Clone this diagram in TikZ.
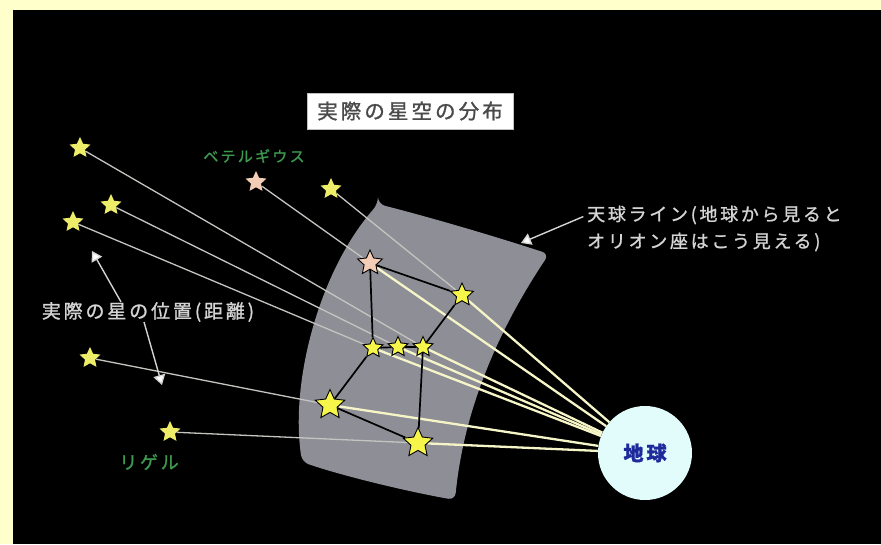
\documentclass[tikz,border=0pt]{standalone}
\usepackage{fontspec}
\newfontfamily\jp[LetterSpace=15,FakeBold=1.2]{Noto Sans CJK JP}
\usetikzlibrary{shapes.geometric,arrows.meta}

\definecolor{framecol}{HTML}{FFFFCC}
\definecolor{spherecol}{HTML}{8E8E96}
\definecolor{staryellow}{HTML}{F6F64A}
\definecolor{farstarcol}{HTML}{EDED6A}
\definecolor{betelcol}{HTML}{F3CDB5}
\definecolor{earthcol}{HTML}{E2FBFB}
\definecolor{earthtext}{HTML}{1E2A9C}
\definecolor{labelcol}{HTML}{D4D4D4}
\definecolor{namecol}{HTML}{3D9950}
\definecolor{titletext}{HTML}{4A4A4A}
\definecolor{farray}{HTML}{C4C4C0}
\definecolor{nearray}{HTML}{F5F5C8}

\pgfdeclarelayer{back}
\pgfdeclarelayer{rays}
\pgfdeclarelayer{links}
\pgfsetlayers{back,rays,links,main}

\tikzset{
  farstar/.style={star, star points=5, star point ratio=2.1, fill=farstarcol,
    inner sep=0pt, minimum size=#1},
  farstar/.default=22,
  nearstar/.style={star, star points=5, star point ratio=2.1, fill=staryellow,
    draw=black, line width=0.9pt, inner sep=0pt, minimum size=#1},
  nearstar/.default=21,
  farray/.style={draw=farray, line width=1.3pt},
  nearray/.style={draw=nearray, line width=2.3pt},
  figline/.style={draw=black, line width=1.7pt},
  pointer/.style={draw=labelcol, line width=1.4pt,
    -{Triangle[width=12pt,length=10pt,fill=white]}},
  caption/.style={text=labelcol, inner sep=0pt},
  starname/.style={text=namecol, inner sep=0pt},
}

\begin{document}
\begin{tikzpicture}[x=1pt,y=-1pt]
\useasboundingbox (0,0) rectangle (881,544);

% frame and night sky
\begin{pgfonlayer}{back}
  \fill[framecol] (0,0) rectangle (881,544);
  \fill[black] (13,10) rectangle (881,544);
  % celestial sphere patch
  \fill[spherecol, rounded corners=7pt]
    (378,204) .. controls (440,220) and (500,238) .. (549,254)
    .. controls (505,320) and (465,400) .. (455,500)
    .. controls (400,490) and (340,475) .. (302,462)
    .. controls (290,380) and (320,270) .. (378,204) -- cycle;
\end{pgfonlayer}

% real stars
\node[farstar] (f1) at (80,148) {};
\node[farstar] (f2) at (111,205) {};
\node[farstar] (f3) at (73,222) {};
\node[farstar, fill=betelcol] (fb) at (256,182) {};
\node[farstar] (f5) at (331,189) {};
\node[farstar] (f6) at (90,358) {};
\node[farstar] (fr) at (170,432) {};

% stars as seen on the celestial sphere
\node[nearstar=26, fill=betelcol] (nb) at (370,263) {};
\node[nearstar=24] (nbl) at (462,295) {};
\node[nearstar] (b1) at (373,348) {};
\node[nearstar] (b2) at (398,347) {};
\node[nearstar] (b3) at (423,347) {};
\node[nearstar=31] (ns) at (330,405) {};
\node[nearstar=31] (nr) at (418,443) {};

% the Earth
\node[circle, fill=earthcol, minimum size=94pt, inner sep=0pt,
      text=earthtext, font={\jp\bfseries\fontsize{20pt}{20pt}\selectfont}]
      (earth) at (645,453) {地球};

% light rays from each star to the Earth
\begin{pgfonlayer}{rays}
  \draw[farray] (f1) -- (b3);
  \draw[farray] (f2) -- (b2);
  \draw[farray] (f3) -- (b1);
  \draw[farray] (fb) -- (nb);
  \draw[farray] (f5) -- (nbl);
  \draw[farray] (f6) -- (ns);
  \draw[farray] (fr) -- (nr);
  \foreach \s in {nb,nbl,b1,b2,b3,ns,nr}
    \draw[nearray] (\s) -- (earth);
\end{pgfonlayer}

% Orion figure
\begin{pgfonlayer}{links}
  \draw[figline] (nb) -- (nbl);
  \draw[figline] (nb) -- (b1);
  \draw[figline] (nbl) -- (b3);
  \draw[figline] (b1) -- (b2) -- (b3);
  \draw[figline] (b1) -- (ns);
  \draw[figline] (b3) -- (nr);
  \draw[figline] (ns) -- (nr);
\end{pgfonlayer}

% title
\node[draw=gray!50, fill=white, minimum width=206pt, minimum height=36pt,
      inner sep=0pt, text=titletext,
      font={\jp\fontsize{20.5pt}{20.5pt}\selectfont}]
      (title) at (410,111) {実際の星空の分布};

% star names
\node[starname, font={\jp\fontsize{15pt}{15pt}\selectfont}]
      (lbet) at (254,156) {ベテルギウス};
\node[starname, font={\jp\fontsize{18pt}{18pt}\selectfont}]
      (lrig) at (149,462) {リゲル};

% captions
\node[caption, font={\jp\fontsize{19pt}{19pt}\selectfont}]
      (lpos) at (148,312) {実際の星の位置(距離)};
\node[caption, anchor=west, font={\jp\fontsize{18pt}{18pt}\selectfont}]
      (sky1) at (587,215) {天球ライン(地球から見ると};
\node[caption, anchor=west, font={\jp\fontsize{18pt}{18pt}\selectfont}]
      (sky2) at (587,242) {オリオン座はこう見える)};

% pointers
\coordinate (tipA) at (92,251);
\coordinate (tipB) at (162,385);
\coordinate (tipC) at (521,243);
\draw[pointer] ([xshift=-27pt]lpos.north) -- (tipA);
\draw[pointer] ([xshift=-4pt]lpos.south) -- (tipB);
\draw[pointer, shorten <=4pt] (sky1.west) -- (tipC);
\end{tikzpicture}
\end{document}
